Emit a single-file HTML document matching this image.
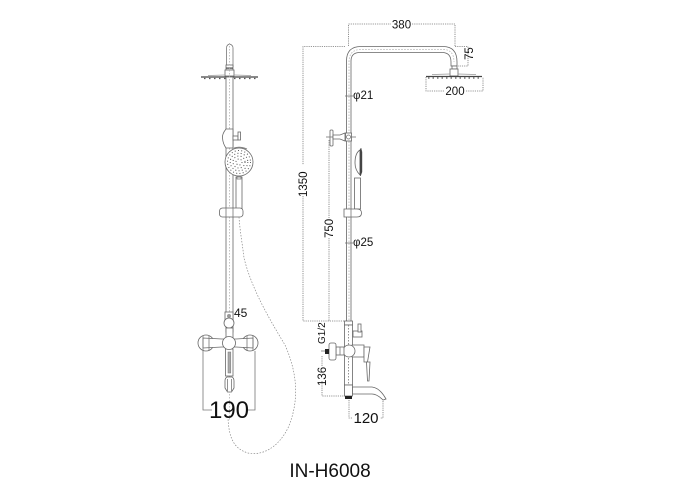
<!DOCTYPE html>
<html><head><meta charset="utf-8"><style>
html,body{margin:0;padding:0;background:#fff}
svg{display:block}
text{font-family:"Liberation Sans",sans-serif;fill:#111}
.l{fill:#fff;stroke:#666;stroke-width:.8}
.n{fill:none;stroke:#777;stroke-width:.8}
.d{fill:none;stroke:#777;stroke-width:.8;stroke-dasharray:1.2 1}
.c{fill:none;stroke:#aaa;stroke-width:.7;stroke-dasharray:1.5 1.5}
.k{fill:#222}
</style></head><body>
<svg width="700" height="500" viewBox="0 0 700 500" xmlns="http://www.w3.org/2000/svg">
<!-- LEFT VIEW -->
<path class="n" d="M226.500 67V48Q226.500 45 229.500 44Q233 45 233 48V67"/>
<rect class="l" x="226" y="65" width="7" height="5"/>
<rect x="226" y="67.500" width="7" height="1.200" fill="#444"/>
<rect class="l" x="225" y="70" width="9" height="6"/>
<path d="M201 77H258" stroke="#444" stroke-width="1.300"/>
<path d="M204 78.500H256" stroke="#555" stroke-width="1.300" stroke-dasharray="1.500 3.500"/>
<path d="M208 75.500L225 75M234 75L251 75.500" stroke="#999" stroke-width=".7"/>
<rect class="l" x="226" y="77" width="7" height="255"/>
<path class="c" d="M229.500 43V420"/>
<path class="l" d="M226 129Q222 134 222.500 138Q223 144 226 148H233V129Z"/>
<rect class="l" x="233" y="136" width="5" height="4"/>
<rect class="l" x="238" y="132" width="2.500" height="8"/>
<path class="n" d="M234 148Q240 146 247 149"/>
<!-- hand shower -->
<circle class="l" cx="239" cy="162" r="14"/>
<circle cx="239" cy="162" r="11.500" fill="none" stroke="#555" stroke-width="1" stroke-dasharray="1 2.300"/>
<circle cx="239" cy="162" r="8.800" fill="none" stroke="#555" stroke-width="1" stroke-dasharray="1 2.300"/>
<circle cx="239" cy="162" r="6" fill="none" stroke="#555" stroke-width="1" stroke-dasharray="1 2.300"/>
<circle cx="239" cy="162" r="3" fill="none" stroke="#555" stroke-width="1" stroke-dasharray="1 2.100"/>
<rect class="l" x="236" y="177" width="6" height="33"/>
<rect class="n" x="237" y="176" width="4" height="3"/>
<rect class="l" x="219.500" y="208" width="23.500" height="9" rx="3"/>
<path class="n" d="M226 208V217M233 208V217"/>
<path class="c" d="M239 217C240 232 243 248 244 258C252 290 270 320 285 345C297 372 300 400 288 428C278 448 262 456 248 453C235 449 229 440 228 418" style="stroke:#888"/>
<!-- lower left -->
<rect class="l" x="225" y="312" width="8" height="8"/>
<circle cx="229" cy="316" r="2" fill="#999"/>
<ellipse class="l" cx="229" cy="323" rx="5" ry="5"/>
<rect class="l" x="226" y="328" width="7" height="10"/>
<circle class="l" cx="206" cy="343" r="8"/>
<circle class="l" cx="250" cy="343" r="8"/>
<path class="l" d="M203 338L222 339H236L253 338V348L236 347H222L203 348Z"/>
<path class="n" d="M203 335.500V350.500M209 335.500V350.500M247 335.500V350.500M253 335.500V350.500"/>
<rect class="l" x="225.500" y="349" width="7.500" height="27"/>
<rect x="228" y="352" width="2.800" height="21" fill="#aaa" stroke="#777" stroke-width=".5"/>
<circle class="l" cx="229" cy="343" r="6.500"/>
<path class="l" d="M227 377H232Q234 378 234 381V388L231.500 392H227.500L225 388V381Q225 378 227 377Z"/>
<path class="n" d="M227.500 379V391M231.500 379V391"/>
<path class="n" d="M203 351V410H212M255 351V410H247"/>
<text x="234" y="317" font-size="12">45</text>
<text x="229" y="418" font-size="24" text-anchor="middle">190</text>
<!-- RIGHT VIEW -->
<path d="M346.500 322V61Q346.500 46.500 361 46.500H443Q457 46.500 457 62V66H451V62Q451 52.500 442 52.500H360Q351 52.500 351 61V322Z" fill="#fff" stroke="#666" stroke-width=".8"/>
<path class="c" d="M349 320V62Q349 49.500 361 49.500H443Q454 49.500 454 62"/>
<rect class="l" x="452" y="66" width="5" height="3"/>
<rect class="l" x="450" y="69" width="8" height="7"/>
<path d="M426 76.500H482" stroke="#444" stroke-width="1.300"/>
<path d="M428 78H481" stroke="#555" stroke-width="1.200" stroke-dasharray="1.500 3"/>
<path d="M432 74.500L450 74M458 74L476 74.500" stroke="#999" stroke-width=".7"/>
<!-- dims top -->
<path class="d" d="M348.500 46V24H391M412 24H455V46"/>
<text x="401.500" y="28.500" font-size="11.500" text-anchor="middle">380</text>
<path class="d" d="M455 46.500H468V66H458"/>
<text transform="translate(473 60) rotate(-90)" font-size="11.500">75</text>
<path class="d" d="M426 77V91H444M466 91H483V77"/>
<text x="455" y="95" font-size="11.500" text-anchor="middle">200</text>
<path class="n" d="M345 96H353"/>
<text x="353" y="99" font-size="11.500">φ21</text>
<path class="d" d="M345 46.500H303V165M303 196V321H345"/>
<text transform="translate(307 197) rotate(-90)" font-size="11.500">1350</text>
<path class="d" d="M329 140V218M329 238V321"/>
<text transform="translate(333 238) rotate(-90)" font-size="11.500">750</text>
<path class="n" d="M345 243H353"/>
<text x="353" y="246" font-size="11.500">φ25</text>
<!-- bracket -->
<rect class="l" x="330" y="130" width="3" height="16" rx="1"/>
<path class="n" d="M326 137H333"/>
<path class="l" d="M333 135H340L345 133V141L340 139H333Z"/>
<rect class="l" x="345.500" y="133" width="6" height="8"/>
<circle class="n" cx="348.500" cy="137" r="2"/>
<path class="n" d="M351 137H356"/>
<!-- hand shower side -->
<path class="l" d="M360 150Q355 153 355 163Q355 170 360 175Z"/>
<path d="M360 150L361 148L362 152V172L360.500 176L360 174Z" fill="#444" stroke="#444" stroke-width=".4"/>
<rect class="l" x="354.500" y="178" width="6" height="31"/>
<path class="l" d="M344 209H357Q361.500 209 361.500 213Q361.500 217 357 217H344Z"/>
<path class="n" d="M351 209V217"/>
<!-- lower body -->
<rect class="l" x="344.500" y="321" width="8" height="4"/>
<rect class="l" x="344.500" y="325" width="8" height="60"/>
<path class="n" d="M348.500 325V385" stroke-dasharray="1.500 1.500"/>
<rect class="l" x="353" y="331" width="9" height="6"/>
<rect class="l" x="358" y="324" width="3" height="8"/>
<path class="l" d="M352 345H364V357H352Z"/>
<circle class="l" cx="349" cy="351" r="6"/>
<path class="l" d="M364 347H370L367.500 362H364Z"/>
<path class="l" d="M366.500 362H370L369 381H367.500Z"/>
<rect class="l" x="336" y="347" width="8" height="8"/>
<path class="n" d="M340 347V355"/>
<rect class="l" x="329" y="343" width="7" height="17" rx="2"/>
<rect class="k" x="325" y="349" width="4" height="5"/>
<path class="n" d="M321 351H325"/>
<text transform="translate(325 344) rotate(-90)" font-size="10">G1/2</text>
<!-- spout -->
<rect class="l" x="344.500" y="385" width="8" height="11"/>
<rect class="k" x="345" y="396" width="7" height="3"/>
<path class="l" d="M352.500 387H372Q380 388 386 399L383 400Q377 394 372 394H352.500Z"/>
<path class="d" d="M322 356V366M322 381V396H345"/>
<text transform="translate(326 386) rotate(-90)" font-size="11.500">136</text>
<path class="d" d="M349 400V418H353M383 401V418H380"/>
<text x="366" y="423" font-size="15" text-anchor="middle">120</text>
<text x="330" y="477" font-size="19" text-anchor="middle">IN-H6008</text>
</svg>
</body></html>
